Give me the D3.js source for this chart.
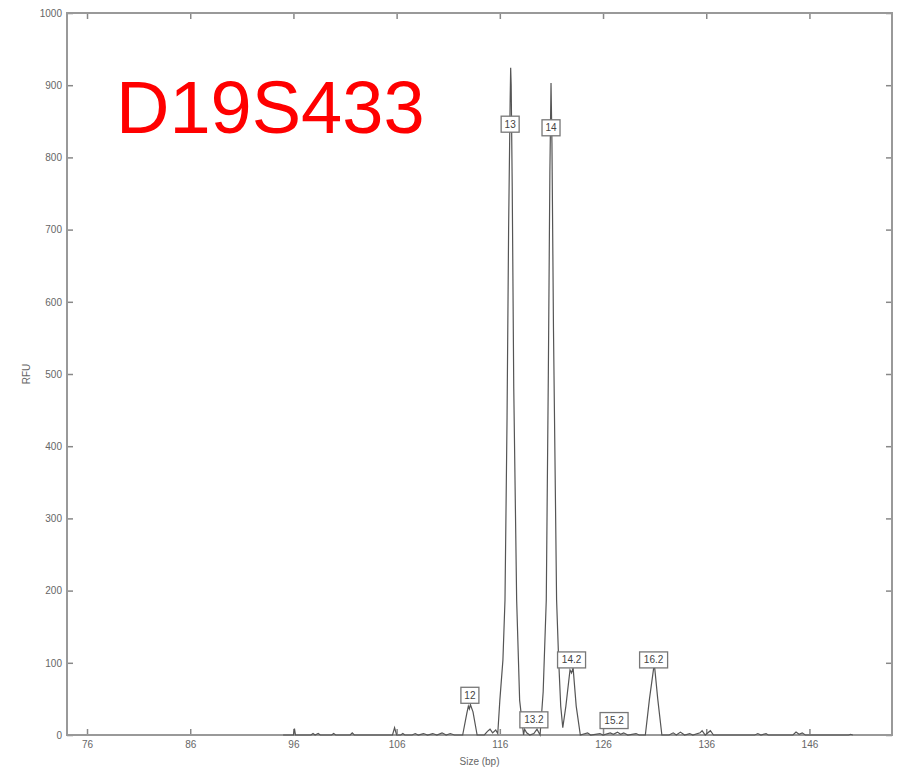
<!DOCTYPE html>
<html lang="en">
<head>
<meta charset="UTF-8">
<title>D19S433</title>
<script src="https://d3js.org/d3.v7.min.js"></script>
<style>
    body { margin: 0; background: #fff; }
    svg { display: block; font-family: "Liberation Sans", Arial, sans-serif; }
    .tick text { fill: #666; font-size: 10px; }
    .tick line { stroke: #888; stroke-width: 1.5px; }
    .allele rect { fill: #fff; stroke: #777; stroke-width: 1.3px; }
    .allele text { fill: #444; font-size: 10px; }
</style>
</head>
<body>
<div id="chart"></div>
<script>
    // electropherogram trace: [size (bp), RFU]
    const trace = [
        [95.0, 0], [96.0, 0], [96.1, 9], [96.2, 0], [97.7, 0], [97.9, 2], [98.1, 0],
        [98.4, 2], [98.6, 0], [99.7, 0], [99.9, 2], [100.1, 0], [101.5, 0], [101.7, 3],
        [101.9, 0], [105.6, 0], [105.8, 10], [106.0, 0], [106.4, 0], [106.6, 2],
        [106.8, 0], [107.5, 0], [107.8, 2], [108.1, 0], [108.6, 2], [109.0, 0],
        [109.5, 2], [109.9, 0], [110.4, 3], [110.8, 0], [111.2, 2], [111.6, 0],
        [112.4, 0], [112.8, 30], [112.95, 40], [113.05, 36], [113.15, 42], [113.4, 32],
        [113.8, 0], [114.5, 0], [114.8, 5], [115.05, 8], [115.3, 3], [115.6, 7],
        [115.8, 2], [116.0, 48], [116.3, 104], [116.5, 187], [116.7, 440], [116.85, 700],
        [117.0, 880], [117.05, 924], [117.1, 900], [117.2, 760], [117.35, 480],
        [117.63, 187], [117.92, 48], [118.3, 0], [118.4, 8], [118.6, 3], [118.9, 0],
        [119.3, 2], [119.6, 8], [119.9, 0], [120.2, 60], [120.5, 187], [120.7, 500],
        [120.85, 780], [120.96, 903], [121.05, 820], [121.2, 560], [121.5, 187],
        [121.7, 104], [121.9, 40], [122.1, 10], [122.4, 40], [122.8, 90], [122.95, 86],
        [123.1, 93], [123.4, 40], [123.8, 0], [124.5, 3], [124.8, 0], [125.7, 2],
        [126.0, 0], [126.7, 3], [127.0, 1], [127.4, 4], [127.7, 1], [128.0, 3],
        [128.4, 0], [129.2, 2], [129.5, 0], [130.1, 0], [130.5, 50], [130.9, 92],
        [131.0, 94], [131.3, 50], [131.7, 0], [132.4, 0], [132.8, 3], [133.1, 0],
        [133.5, 4], [133.9, 0], [134.4, 2], [134.7, 0], [135.4, 3], [135.6, 6],
        [135.9, 0], [136.4, 6], [136.7, 0], [140.7, 0], [141.0, 2], [141.3, 0],
        [141.8, 2], [142.0, 0], [144.4, 0], [144.7, 4], [145.0, 1], [145.3, 3],
        [145.6, 0], [149.8, 0], [150.0, 1], [150.2, 0]
    ];

    // allele call boxes: name, size (bp), RFU of box centre
    const alleleNames = ["12", "13", "13.2", "14", "14.2", "15.2", "16.2"];
    const alleleSizes = [113.1, 117.0, 119.3, 120.96, 122.95, 127.07, 130.9];
    const alleleBoxRfu = [55, 846, 21, 841, 104, 20, 104];

    const xTicks = [76, 86, 96, 106, 116, 126, 136, 146];
    const yTicks = [0, 100, 200, 300, 400, 500, 600, 700, 800, 900, 1000];

    const width = 898, height = 770;
    const plotLeft = 67, plotRight = 892, plotTop = 13, plotBottom = 735;

    const x = d3.scaleLinear().domain([74.06, 154]).range([plotLeft, plotRight]);
    const y = d3.scaleLinear().domain([0, 1000]).range([plotBottom, plotTop]);

    const svg = d3.select("#chart").append("svg")
        .attr("width", width)
        .attr("height", height);

    // axes, ticks pointing inwards, mirrored on top and right
    svg.append("g").attr("transform", `translate(0,${plotBottom})`)
        .call(d3.axisBottom(x).tickValues(xTicks).tickSize(-6).tickPadding(6).tickFormat(d3.format("d")));
    svg.append("g").attr("transform", `translate(${plotLeft},0)`)
        .call(d3.axisLeft(y).tickValues(yTicks).tickSize(-6).tickPadding(5).tickFormat(d3.format("d")));
    svg.append("g").attr("transform", `translate(0,${plotTop})`)
        .call(d3.axisTop(x).tickValues(xTicks).tickSize(-6).tickFormat(""));
    svg.append("g").attr("transform", `translate(${plotRight},0)`)
        .call(d3.axisRight(y).tickValues(yTicks).tickSize(-6).tickFormat(""));
    svg.selectAll(".domain").remove();

    svg.append("rect")
        .attr("x", plotLeft).attr("y", plotTop)
        .attr("width", plotRight - plotLeft).attr("height", plotBottom - plotTop)
        .attr("fill", "none")
        .attr("stroke", "#999")
        .attr("stroke-width", 2);

    // trace
    const line = d3.line().x(d => x(d[0])).y(d => y(d[1]));
    svg.append("path")
        .datum(trace)
        .attr("d", line)
        .attr("fill", "none")
        .attr("stroke", "#555")
        .attr("stroke-width", 1.2);

    // allele labels
    const alleles = alleleNames.map((n, i) => ({ name: n, size: alleleSizes[i], rfu: alleleBoxRfu[i] }));
    const lab = svg.selectAll(".allele").data(alleles).enter().append("g")
        .attr("class", "allele")
        .attr("transform", d => `translate(${x(d.size)},${y(d.rfu)})`);
    lab.append("rect")
        .attr("x", d => d.name.length > 2 ? -14 : -9)
        .attr("y", -8)
        .attr("width", d => d.name.length > 2 ? 28 : 18)
        .attr("height", 16);
    lab.append("text")
        .attr("text-anchor", "middle")
        .attr("dy", "0.35em")
        .text(d => d.name);

    // axis titles
    svg.append("text")
        .attr("x", (plotLeft + plotRight) / 2)
        .attr("y", 765)
        .attr("text-anchor", "middle")
        .attr("fill", "#666")
        .attr("font-size", 10)
        .text("Size (bp)");
    svg.append("text")
        .attr("transform", `translate(30,${(plotTop + plotBottom) / 2}) rotate(-90)`)
        .attr("text-anchor", "middle")
        .attr("fill", "#666")
        .attr("font-size", 10)
        .text("RFU");

    // marker name
    svg.append("text")
        .attr("x", 116)
        .attr("y", 133)
        .attr("fill", "#ff0000")
        .attr("font-size", 74)
        .text("D19S433");
</script>
</body>
</html>
